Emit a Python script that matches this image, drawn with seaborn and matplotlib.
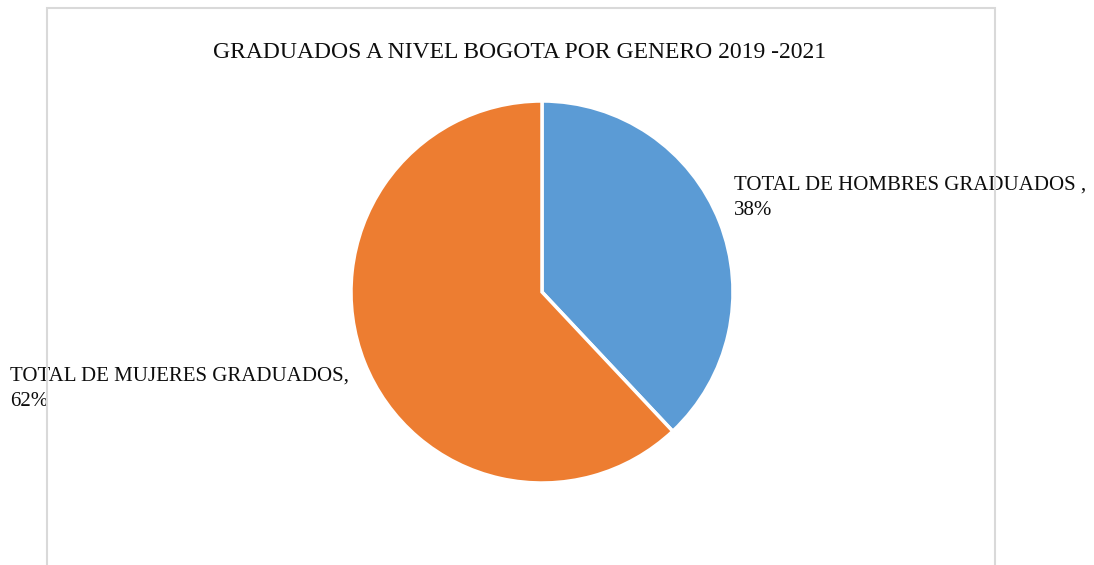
import matplotlib
matplotlib.use("Agg")
import matplotlib.pyplot as plt
import seaborn as sns
from matplotlib.patches import Rectangle

categories = ["TOTAL DE HOMBRES GRADUADOS ", "TOTAL DE MUJERES GRADUADOS"]
shares = [38, 62]
colors = ["#5B9BD5", "#ED7D31"]
title = "GRADUADOS A NIVEL BOGOTA POR GENERO 2019 -2021"

sns.set_theme(style="white")
plt.rcParams["font.family"] = ["Liberation Serif", "DejaVu Serif"]

W, H = 1094, 565
fig = plt.figure(figsize=(W / 100, H / 100), dpi=100)

# pie axes: centre (542, 292) px, radius 191 px
cx, cy, r = 542, 292, 191
ax = fig.add_axes([(cx - r) / W, (H - cy - r) / H, 2 * r / W, 2 * r / H])
ax.pie(
    shares,
    colors=colors,
    startangle=90,
    counterclock=False,
    radius=1,
    wedgeprops={"edgecolor": "white", "linewidth": 2.5},
)
ax.set_xlim(-1, 1)
ax.set_ylim(-1, 1)
ax.axis("off")

fig.text(520 / W, 1 - 53 / H, title, ha="center", va="center", fontsize=17, color="#0d0d0d")

label_pos = [(734, 176), (10, 367)]
for (name, val), (px, py) in zip(zip(categories, shares), label_pos):
    fig.text(px / W, 1 - py / H, f"{name},\n{val}%", ha="left", va="top",
             fontsize=15, color="#0d0d0d", linespacing=1.45)

# chart area border
border = Rectangle((47 / W, -0.05), (995 - 47) / W, 1.05 - 8 / H,
                   transform=fig.transFigure, fill=False,
                   edgecolor="#D9D9D9", linewidth=1.5, zorder=10)
fig.add_artist(border)

fig.savefig("out.png", dpi=100, facecolor="white")
